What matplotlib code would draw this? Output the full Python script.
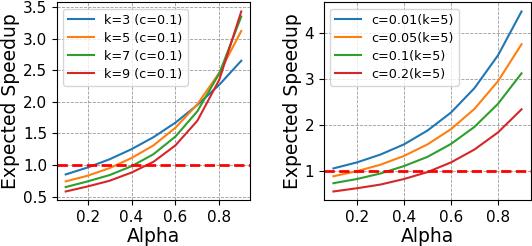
import matplotlib
matplotlib.use("Agg")
import matplotlib.pyplot as plt

alpha = [0.1, 0.2, 0.3, 0.4, 0.5, 0.6, 0.7, 0.8, 0.9]

# left panel: varying k, c fixed at 0.1
k_labels = ["k=3 (c=0.1)", "k=5 (c=0.1)", "k=7 (c=0.1)", "k=9 (c=0.1)"]
speedup_k3 = [0.85, 0.96, 1.09, 1.25, 1.44, 1.67, 1.95, 2.27, 2.65]
speedup_k5 = [0.74, 0.83, 0.95, 1.11, 1.31, 1.59, 1.96, 2.46, 3.12]
speedup_k7 = [0.65, 0.74, 0.84, 0.98, 1.17, 1.45, 1.85, 2.45, 3.35]
speedup_k9 = [0.58, 0.66, 0.75, 0.88, 1.05, 1.31, 1.70, 2.35, 3.43]

# right panel: varying c, k fixed at 5
c_labels = ["c=0.01(k=5)", "c=0.05(k=5)", "c=0.1(k=5)", "c=0.2(k=5)"]
speedup_c001 = [1.06, 1.19, 1.36, 1.58, 1.88, 2.27, 2.80, 3.51, 4.46]
speedup_c005 = [0.89, 1.00, 1.14, 1.33, 1.58, 1.91, 2.35, 2.95, 3.75]
speedup_c01 = [0.74, 0.83, 0.95, 1.11, 1.31, 1.59, 1.96, 2.46, 3.12]
speedup_c02 = [0.56, 0.63, 0.71, 0.83, 0.98, 1.19, 1.47, 1.84, 2.34]

colors = ["#1f77b4", "#ff7f0e", "#2ca02c", "#d62728"]

fig = plt.figure(figsize=(5.32, 2.46), dpi=100)
ax1 = fig.add_axes([0.107, 0.185, 0.363, 0.805])
ax2 = fig.add_axes([0.609, 0.185, 0.389, 0.805])

panels = [
    (ax1, [speedup_k3, speedup_k5, speedup_k7, speedup_k9], k_labels),
    (ax2, [speedup_c001, speedup_c005, speedup_c01, speedup_c02], c_labels),
]

for ax, series, labels in panels:
    for vals, lab, col in zip(series, labels, colors):
        ax.plot(alpha, vals, color=col, linewidth=1.5, label=lab)
    ax.axhline(1.0, color="red", linestyle="--", linewidth=2)
    ax.grid(True, linestyle="--", color="gray", linewidth=0.6, alpha=0.8)
    ax.set_xlabel("Alpha", fontsize=13.5, labelpad=1)
    ax.set_ylabel("Expected Speedup", fontsize=13.5, labelpad=2)
    ax.tick_params(labelsize=11)
    ax.set_xticks([0.2, 0.4, 0.6, 0.8])
    ax.legend(loc="upper left", fontsize=9.2, labelspacing=0.38)

ax1.set_yticks([0.5, 1.0, 1.5, 2.0, 2.5, 3.0, 3.5])
ax2.set_yticks([1, 2, 3, 4])

fig.savefig("out.png", dpi=100)
plt.close(fig)
